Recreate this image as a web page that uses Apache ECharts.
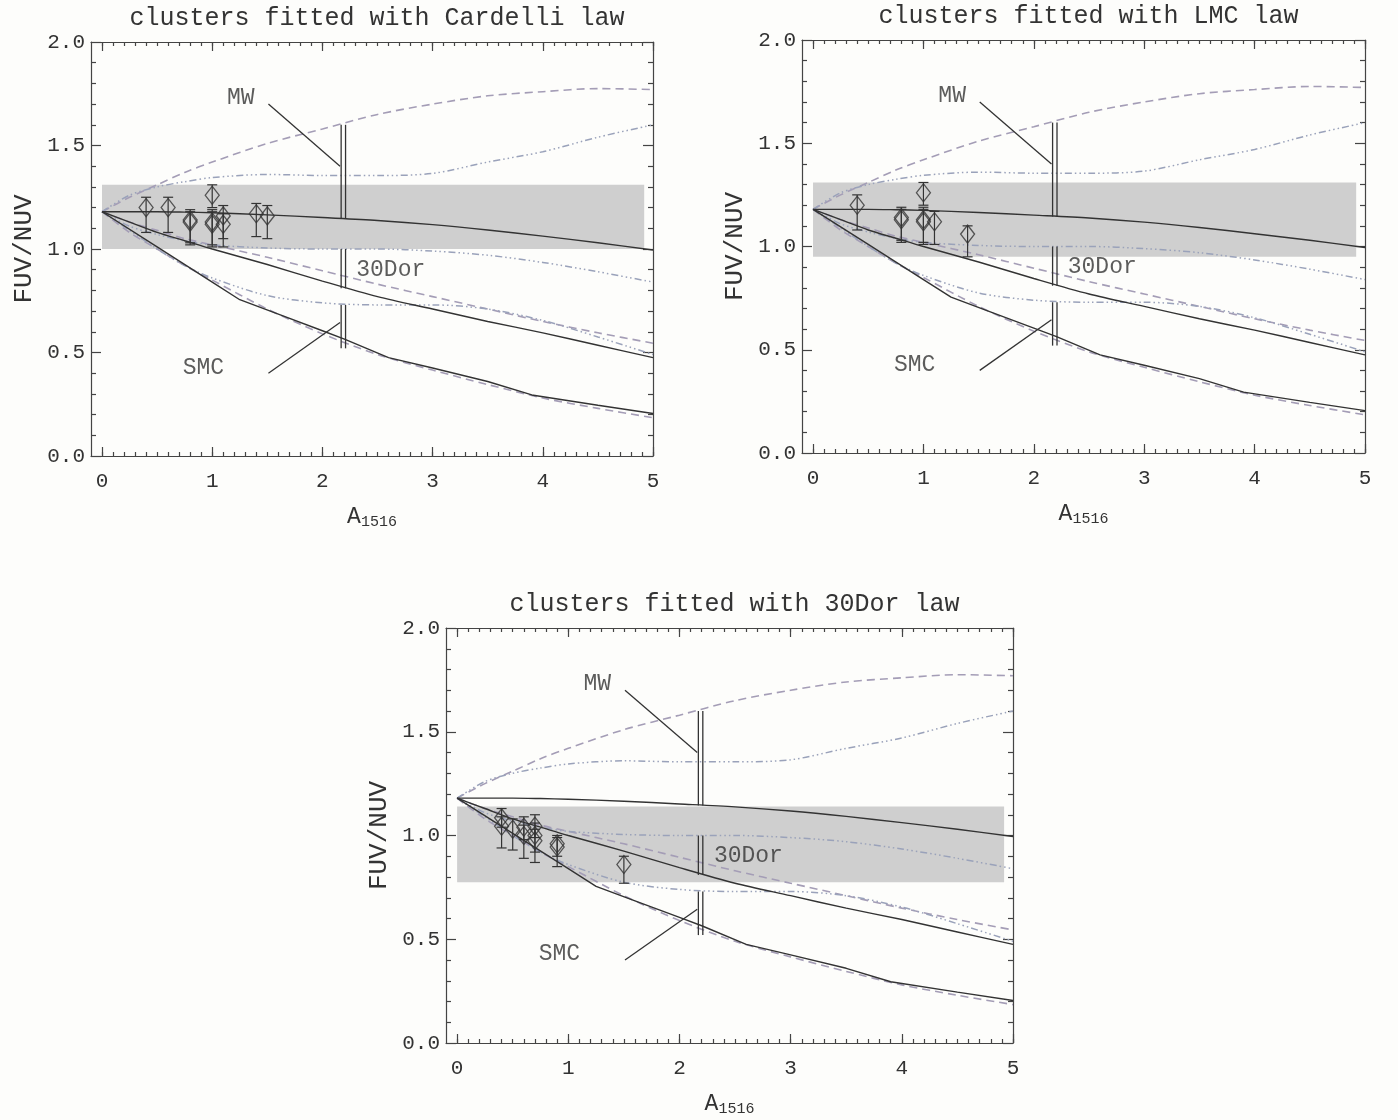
<!DOCTYPE html>
<html><head><meta charset="utf-8">
<script src="https://cdn.jsdelivr.net/npm/echarts@6/dist/echarts.min.js"></script>
<style>html,body{margin:0;padding:0;background:#fdfdfb}#c{width:1398px;height:1120px}</style>
</head><body><div id="c"></div>
<script>
// ---- model curves (shared by all panels) ----
const curveX    = [0, 0.25, 0.5, 0.75, 1, 1.5, 2, 2.5, 3, 3.5, 4, 4.5, 5];
const solidTop  = [1.18, 1.18, 1.18, 1.178, 1.175, 1.165, 1.152, 1.138, 1.118, 1.092, 1.062, 1.03, 0.995];
const solidMid  = [1.18, 1.13, 1.08, 1.04, 1.0, 0.925, 0.845, 0.77, 0.71, 0.65, 0.595, 0.535, 0.475];
const dashUpper = [1.18, 1.25, 1.31, 1.37, 1.42, 1.51, 1.58, 1.65, 1.70, 1.74, 1.76, 1.775, 1.77];
const dashMid   = [1.18, 1.13, 1.09, 1.05, 1.02, 0.96, 0.895, 0.83, 0.77, 0.71, 0.65, 0.595, 0.545];
const dashLow   = [1.18, 1.08, 1.0, 0.92, 0.85, 0.71, 0.59, 0.49, 0.415, 0.345, 0.28, 0.23, 0.185];
const dotUpper  = [1.18, 1.26, 1.30, 1.325, 1.345, 1.36, 1.355, 1.355, 1.365, 1.42, 1.47, 1.54, 1.60];
const dotMid    = [1.18, 1.11, 1.07, 1.04, 1.02, 1.005, 1.0, 1.0, 0.99, 0.97, 0.935, 0.89, 0.84];
const dotLow    = [1.18, 1.09, 1.0, 0.92, 0.86, 0.775, 0.74, 0.73, 0.73, 0.71, 0.655, 0.575, 0.49];
const solidLowX = [0, 0.5, 1, 1.25, 1.6, 2.0, 2.2, 2.6, 3.0, 3.5, 3.9, 4.5, 5];
const solidLowY = [1.18, 1.01, 0.84, 0.755, 0.685, 0.605, 0.565, 0.475, 0.425, 0.36, 0.295, 0.245, 0.205];

// ---- vertical marker segments at A1516 ~ 2.2 ----
const markerX    = [2.17, 2.21];
const markerLo   = [1.145, 0.81, 0.52];
const markerHi   = [1.60, 1.0, 0.73];
const leaderLines = [[1.51, 1.70, 2.16, 1.40], [1.51, 0.40, 2.16, 0.645]];
const annotText = ['MW', '30Dor', 'SMC'];
const annotX    = [1.26, 2.62, 0.92];
const annotY    = [1.73, 0.90, 0.427];

// ---- panel titles ----
const titles = ['clusters fitted with Cardelli law', 'clusters fitted with LMC law', 'clusters fitted with 30Dor law'];

// ---- shaded bands [low, high] ----
const bandLow  = [1.0, 0.95, 0.775];
const bandHigh = [1.31, 1.31, 1.14];
const bandXEnd = 4.92;

// ---- cluster data ----
const cardelliX  = [0.4, 0.6, 0.8, 0.8, 1.0, 1.0, 1.0, 1.1, 1.1, 1.4, 1.5];
const cardelliY  = [1.20, 1.20, 1.13, 1.14, 1.26, 1.12, 1.13, 1.16, 1.12, 1.17, 1.16];
const cardelliLo = [1.08, 1.08, 1.02, 1.03, 1.20, 1.01, 1.02, 1.05, 1.01, 1.06, 1.05];
const cardelliHi = [1.25, 1.25, 1.19, 1.18, 1.31, 1.18, 1.19, 1.21, 1.17, 1.22, 1.21];

const lmcX  = [0.4, 0.8, 0.8, 1.0, 1.0, 1.0, 1.1, 1.4];
const lmcY  = [1.20, 1.13, 1.14, 1.26, 1.12, 1.13, 1.12, 1.06];
const lmcLo = [1.08, 1.02, 1.03, 1.20, 1.01, 1.02, 1.01, 0.95];
const lmcHi = [1.25, 1.19, 1.18, 1.31, 1.18, 1.19, 1.17, 1.10];

const dorX  = [0.4, 0.4, 0.5, 0.6, 0.6, 0.7, 0.7, 0.7, 0.9, 0.9, 1.5];
const dorY  = [1.085, 1.045, 1.03, 1.04, 1.0, 1.045, 1.0, 0.975, 0.96, 0.945, 0.86];
const dorLo = [1.04, 0.94, 0.93, 0.98, 0.89, 0.99, 0.92, 0.87, 0.90, 0.85, 0.77];
const dorHi = [1.13, 1.09, 1.08, 1.09, 1.05, 1.10, 1.06, 1.03, 1.00, 0.99, 0.90];

const majorX = [0, 1, 2, 3, 4, 5];

// ---------------- build option ----------------
const FONT = '"Liberation Mono", "DejaVu Sans Mono", monospace';
const AX = '#444';
const TXT = '#333';
const DASHC = '#a49db6';
const DOTC = '#9aa2ba';

const minorX = [];
for (let k = 0; k <= 50; k++) minorX.push(k / 10);

const grids = [
  {left: 91, top: 42, width: 562, height: 414},
  {left: 802, top: 40, width: 563, height: 413},
  {left: 446, top: 628, width: 567, height: 415}
];
const pts = [
  [cardelliX, cardelliY, cardelliLo, cardelliHi],
  [lmcX, lmcY, lmcLo, lmcHi],
  [dorX, dorY, dorLo, dorHi]
];

const zip = (xs, ys) => xs.map((x, i) => [x, ys[i]]);

const option = {
  backgroundColor: '#fdfdfb',
  animation: false,
  title: [], grid: [], xAxis: [], yAxis: [], series: []
};

grids.forEach((g, i) => {
  option.grid.push(Object.assign({containLabel: false}, g));
  option.title.push({
    text: titles[i], left: g.left + g.width / 2, top: g.top - 41, textAlign: 'center',
    textStyle: {fontFamily: FONT, fontSize: 25, fontWeight: 'normal', color: TXT}
  });
  const lineS = {color: AX, width: 1.2};
  const baseX = {gridIndex: i, type: 'value', min: -0.1, max: 5, splitLine: {show: false}};
  option.xAxis.push(Object.assign({}, baseX, {
    position: 'bottom',
    axisLine: {show: true, onZero: false, lineStyle: lineS},
    axisTick: {show: true, inside: true, length: 9, customValues: majorX, lineStyle: lineS},
    axisLabel: {customValues: majorX, fontFamily: FONT, fontSize: 21, color: TXT, margin: 15},
    name: '{a|A}{s|1516}', nameLocation: 'middle', nameGap: 47,
    nameTextStyle: {rich: {
      a: {fontFamily: FONT, fontSize: 23, color: TXT},
      s: {fontFamily: FONT, fontSize: 15, color: TXT, padding: [12, 0, 0, 0]}
    }}
  }));
  option.xAxis.push(Object.assign({}, baseX, {
    position: 'bottom', axisLine: {show: false, onZero: false},
    axisTick: {show: true, inside: true, length: 4, customValues: minorX, lineStyle: lineS},
    axisLabel: {show: false}
  }));
  option.xAxis.push(Object.assign({}, baseX, {
    position: 'top', axisLine: {show: true, onZero: false, lineStyle: lineS},
    axisTick: {show: true, inside: true, length: 9, customValues: majorX, lineStyle: lineS},
    axisLabel: {show: false}
  }));
  option.xAxis.push(Object.assign({}, baseX, {
    position: 'top', axisLine: {show: false, onZero: false},
    axisTick: {show: true, inside: true, length: 4, customValues: minorX, lineStyle: lineS},
    axisLabel: {show: false}
  }));
  const baseY = {
    gridIndex: i, type: 'value', min: 0, max: 2, interval: 0.5, splitLine: {show: false},
    axisLine: {show: true, onZero: false, lineStyle: lineS},
    axisTick: {show: true, inside: true, length: 10, lineStyle: lineS},
    minorTick: {show: true, splitNumber: 5, length: 5, lineStyle: lineS}
  };
  option.yAxis.push(Object.assign({}, baseY, {
    position: 'left',
    axisLabel: {fontFamily: FONT, fontSize: 21, color: TXT, margin: 6, formatter: v => v.toFixed(1)},
    name: 'FUV/NUV', nameLocation: 'middle', nameRotate: 90, nameGap: 54,
    nameTextStyle: {fontFamily: FONT, fontSize: 26, color: TXT}
  }));
  option.yAxis.push(Object.assign({}, baseY, {position: 'right', axisLabel: {show: false}}));

  const xi = 4 * i, yi = 2 * i;
  const ax = {xAxisIndex: xi, yAxisIndex: yi};

  // band
  option.series.push(Object.assign({
    type: 'custom', silent: true, z: 1,
    data: [[0, bandLow[i], bandXEnd, bandHigh[i]]],
    encode: {x: [0, 2], y: [1, 3]},
    renderItem: (p, api) => {
      const a = api.coord([api.value(0), api.value(3)]);
      const b = api.coord([api.value(2), api.value(1)]);
      return {type: 'rect', shape: {x: a[0], y: a[1], width: b[0] - a[0], height: b[1] - a[1]},
              style: {fill: '#cfcfcf'}};
    }
  }, ax));

  const addLine = (xs, ys, color, type, width, smooth) => {
    option.series.push(Object.assign({
      type: 'line', data: zip(xs, ys), showSymbol: false, symbol: 'none', silent: true,
      smooth: smooth, z: 2,
      lineStyle: {color: color, type: type, width: width}
    }, ax));
  };
  const dashT = [8, 5];
  const dotT = [7, 3, 1.5, 3, 1.5, 3, 1.5, 3];
  addLine(curveX, dashUpper, DASHC, dashT, 1.6, 0.3);
  addLine(curveX, dashMid, DASHC, dashT, 1.6, 0.3);
  addLine(curveX, dashLow, DASHC, dashT, 1.6, 0.3);
  addLine(curveX, dotUpper, DOTC, dotT, 1.5, 0.3);
  addLine(curveX, dotMid, DOTC, dotT, 1.5, 0.3);
  addLine(curveX, dotLow, DOTC, dotT, 1.5, 0.3);
  addLine(curveX, solidTop, '#333', 'solid', 1.4, 0.3);
  addLine(curveX, solidMid, '#333', 'solid', 1.4, 0.3);
  addLine(solidLowX, solidLowY, '#333', 'solid', 1.4, false);

  // vertical double markers
  const segData = [];
  markerX.forEach(mx => markerLo.forEach((lo, k) => segData.push([mx, lo, mx, markerHi[k]])));
  const segRender = (p, api) => {
    const a = api.coord([api.value(0), api.value(1)]);
    const b = api.coord([api.value(2), api.value(3)]);
    return {type: 'line', shape: {x1: a[0], y1: a[1], x2: b[0], y2: b[1]},
            style: {stroke: '#333', lineWidth: 1.3}};
  };
  option.series.push(Object.assign({
    type: 'custom', silent: true, z: 3, data: segData, encode: {x: [0, 2], y: [1, 3]}, renderItem: segRender
  }, ax));
  option.series.push(Object.assign({
    type: 'custom', silent: true, z: 3, data: leaderLines, encode: {x: [0, 2], y: [1, 3]}, renderItem: segRender
  }, ax));

  // annotations
  option.series.push(Object.assign({
    type: 'scatter', silent: true, z: 4, symbolSize: 1, itemStyle: {color: 'rgba(0,0,0,0)'},
    data: annotText.map((t, k) => [annotX[k], annotY[k], t]),
    label: {show: true, position: 'inside', formatter: p => p.data[2],
            fontFamily: FONT, fontSize: 23, color: TXT}
  }, ax));

  // error bars
  const [px, py, plo, phi] = pts[i];
  option.series.push(Object.assign({
    type: 'custom', silent: true, z: 5,
    data: px.map((x, k) => [x, plo[k], phi[k]]),
    encode: {x: 0, y: [1, 2]},
    renderItem: (p, api) => {
      const lo = api.coord([api.value(0), api.value(1)]);
      const hi = api.coord([api.value(0), api.value(2)]);
      const w = 5;
      const st = {stroke: '#333', lineWidth: 1.2};
      return {type: 'group', children: [
        {type: 'line', shape: {x1: lo[0], y1: lo[1], x2: hi[0], y2: hi[1]}, style: st},
        {type: 'line', shape: {x1: lo[0] - w, y1: lo[1], x2: lo[0] + w, y2: lo[1]}, style: st},
        {type: 'line', shape: {x1: hi[0] - w, y1: hi[1], x2: hi[0] + w, y2: hi[1]}, style: st}
      ]};
    }
  }, ax));
  option.series.push(Object.assign({
    type: 'scatter', silent: true, z: 6, symbol: 'diamond', symbolSize: [14, 18],
    data: zip(px, py),
    itemStyle: {color: 'rgba(0,0,0,0)', borderColor: '#333', borderWidth: 1.3}
  }, ax));
});

const chart = echarts.init(document.getElementById('c'));
chart.setOption(option);
</script>
</body></html>
